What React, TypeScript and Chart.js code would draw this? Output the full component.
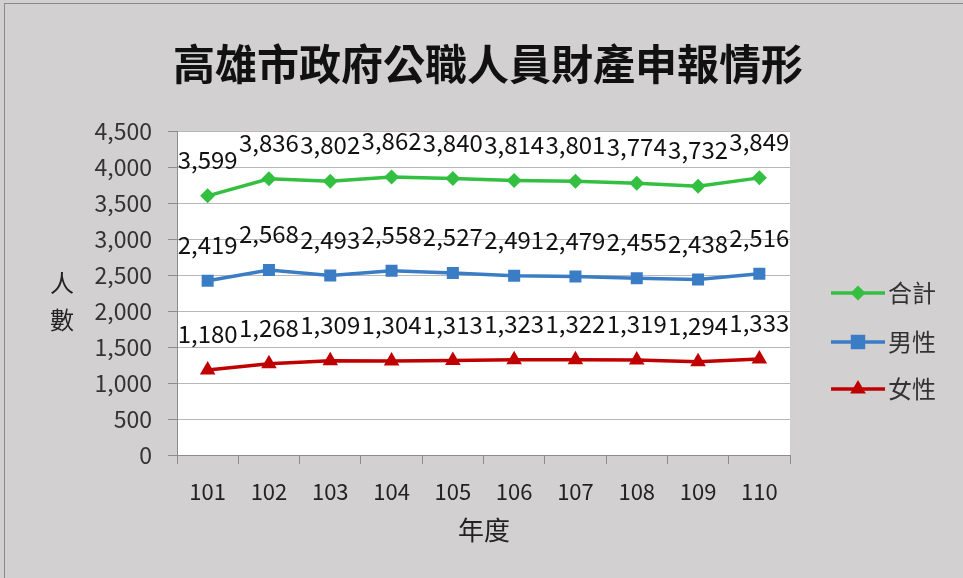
import React, { useEffect, useRef } from "react";
import { Chart, registerables } from "chart.js";

Chart.register(...registerables);

const titleText = "高雄市政府公職人員財產申報情形";
const xTitle = "年度";
const yTitleChars = ["人", "數"];
const categories = ["101", "102", "103", "104", "105", "106", "107", "108", "109", "110"];
const seriesNames = ["合計", "男性", "女性"];
const totalValues = [3599, 3836, 3802, 3862, 3840, 3814, 3801, 3774, 3732, 3849];
const maleValues = [2419, 2568, 2493, 2558, 2527, 2491, 2479, 2455, 2438, 2516];
const femaleValues = [1180, 1268, 1309, 1304, 1313, 1323, 1322, 1319, 1294, 1333];
const colors = ["#33bf40", "#3b7dc4", "#c00000"];
const pointStyles = ["rectRot", "rect", "triangle"];
const pointRadii = [7.5, 8.5, 9];

const FONT = '"Noto Sans CJK TC", "Noto Sans", sans-serif';

const overlayPlugin = {
  id: "overlay",
  afterDatasetsDraw(chart: any) {
    const ctx = chart.ctx;
    // data labels
    ctx.save();
    ctx.font = `24px ${FONT}`;
    ctx.fillStyle = "#111";
    ctx.textAlign = "center";
    ctx.textBaseline = "middle";
    chart.data.datasets.forEach((ds: any, di: number) => {
      const meta = chart.getDatasetMeta(di);
      meta.data.forEach((pt: any, i: number) => {
        ctx.fillText(Number(ds.data[i]).toLocaleString("en-US"), pt.x, pt.y - 36);
      });
    });
    ctx.restore();
  },
  afterDraw(chart: any) {
    const ctx = chart.ctx;
    ctx.save();
    // title
    ctx.fillStyle = "#111";
    ctx.font = `bold 42px ${FONT}`;
    ctx.textAlign = "center";
    ctx.textBaseline = "middle";
    ctx.fillText(titleText, 488, 64);
    // x title
    ctx.font = `26px ${FONT}`;
    ctx.fillStyle = "#222";
    ctx.fillText(xTitle, 484, 530);
    // y title stacked
    ctx.font = `24px ${FONT}`;
    ctx.fillText(yTitleChars[0], 62, 283);
    ctx.fillText(yTitleChars[1], 62, 320);
    // legend
    const rows = [293, 342, 389];
    chart.data.datasets.forEach((ds: any, di: number) => {
      const y = rows[di];
      ctx.strokeStyle = ds.borderColor;
      ctx.lineWidth = 3.5;
      ctx.beginPath();
      ctx.moveTo(831, y);
      ctx.lineTo(885, y);
      ctx.stroke();
      ctx.fillStyle = ds.backgroundColor;
      ctx.beginPath();
      const r = ds.pointRadius;
      if (ds.pointStyle === "rectRot") {
        ctx.moveTo(858, y - r);
        ctx.lineTo(858 + r, y);
        ctx.lineTo(858, y + r);
        ctx.lineTo(858 - r, y);
      } else if (ds.pointStyle === "rect") {
        const s = r * 0.85;
        ctx.rect(858 - s, y - s, 2 * s, 2 * s);
      } else {
        const h = r * 1.5;
        ctx.moveTo(858, y - h * 0.66);
        ctx.lineTo(858 + r * 0.87, y + h * 0.34);
        ctx.lineTo(858 - r * 0.87, y + h * 0.34);
      }
      ctx.closePath();
      ctx.fill();
      ctx.fillStyle = "#333";
      ctx.font = `24px ${FONT}`;
      ctx.textAlign = "left";
      ctx.textBaseline = "middle";
      ctx.fillText(ds.label, 888, y);
    });
    ctx.restore();
  },
};

export default function App() {
  const ref = useRef<HTMLCanvasElement | null>(null);
  useEffect(() => {
    document.body.style.margin = "0";
    const seriesData = [totalValues, maleValues, femaleValues];
    const chart = new Chart(ref.current as HTMLCanvasElement, {
      type: "line",
      data: {
        labels: categories,
        datasets: seriesData.map((d, i) => ({
          label: seriesNames[i],
          data: d,
          borderColor: colors[i],
          backgroundColor: colors[i],
          pointBackgroundColor: colors[i],
          pointBorderColor: colors[i],
          pointStyle: pointStyles[i] as any,
          pointRadius: pointRadii[i],
          pointBorderWidth: 0,
          borderWidth: 3.5,
          tension: 0,
        })),
      },
      options: {
        animation: false,
        responsive: false,
        devicePixelRatio: 1,
        layout: { padding: { left: 0, top: 131, right: 173, bottom: 0 } },
        plugins: {
          legend: { display: false },
          title: { display: false },
          tooltip: { enabled: false },
        },
        scales: {
          x: {
            offset: true,
            grid: {
              offset: true,
              drawOnChartArea: false,
              tickLength: 9,
              color: "#8c8c8c",
            },
            border: { color: "#8c8c8c", width: 1 },
            ticks: {
              font: { family: FONT, size: 22 },
              color: "#222",
              padding: 14,
              maxRotation: 0,
            },
            afterFit(scale: any) {
              scale.height = 123;
            },
          },
          y: {
            min: 0,
            max: 4500,
            ticks: {
              stepSize: 500,
              font: { family: FONT, size: 23 },
              color: "#333",
              padding: 16,
              callback: (v: any) => Number(v).toLocaleString("en-US"),
            },
            grid: { color: "#b8b8b8", tickLength: 9, tickColor: "#8c8c8c" },
            border: { color: "#8c8c8c", width: 1 },
            afterFit(scale: any) {
              scale.width = 177;
            },
          },
        },
      },
      plugins: [
        {
          id: "plotBg",
          beforeDraw(c: any) {
            const { left, top, width, height } = c.chartArea;
            c.ctx.save();
            c.ctx.fillStyle = "#ffffff";
            c.ctx.fillRect(left, top, width, height);
            c.ctx.restore();
          },
        },
        overlayPlugin,
      ],
    });
    return () => chart.destroy();
  }, []);
  return (
    <div
      style={{
        position: "relative",
        width: 963,
        height: 578,
        background: "#d2d0d1",
        overflow: "hidden",
      }}
    >
      <div
        style={{
          position: "absolute",
          left: 4,
          top: 3,
          width: 960,
          height: 580,
          borderLeft: "1px solid #8a8a8a",
          borderTop: "1px solid #8a8a8a",
          borderRight: "1px solid #8a8a8a",
        }}
      />
      <canvas
        ref={ref}
        width={963}
        height={578}
        style={{ position: "absolute", left: 0, top: 0, width: 963, height: 578 }}
      />
    </div>
  );
}
